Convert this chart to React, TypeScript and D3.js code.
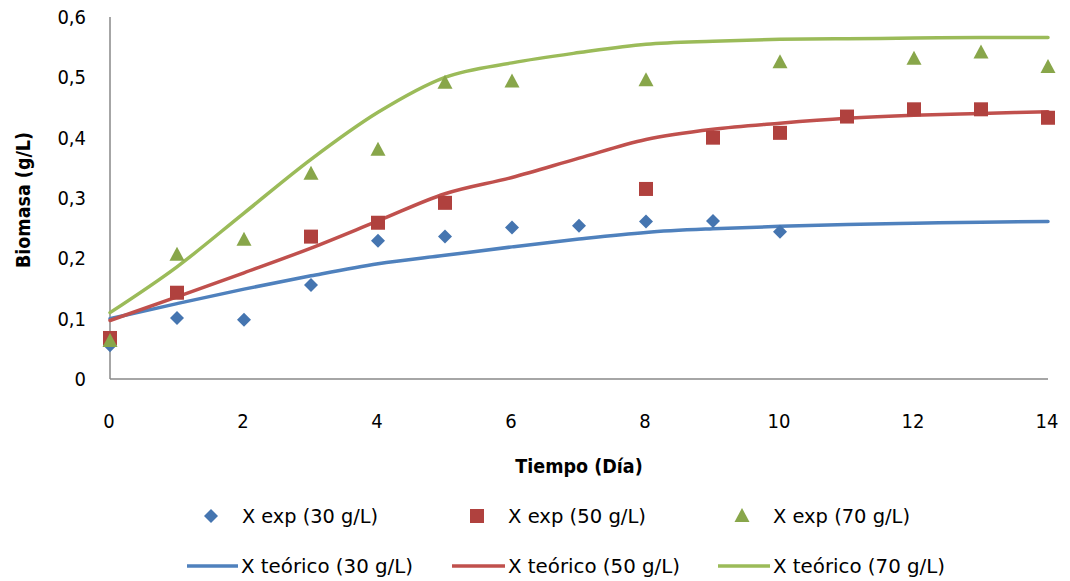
import React from "react";
import * as d3 from "d3";

// Experimental biomass readings (g/L) by day
const days30 = [0, 1, 2, 3, 4, 5, 6, 7, 8, 9, 10];
const exp30 = [0.056, 0.101, 0.098, 0.156, 0.229, 0.236, 0.251, 0.254, 0.261, 0.262, 0.244];
const days50 = [0, 1, 3, 4, 5, 8, 9, 10, 11, 12, 13, 14];
const exp50 = [0.068, 0.143, 0.236, 0.259, 0.292, 0.315, 0.4, 0.408, 0.435, 0.447, 0.447, 0.433];
const days70 = [0, 1, 2, 3, 4, 5, 6, 8, 10, 12, 13, 14];
const exp70 = [0.063, 0.206, 0.231, 0.34, 0.38, 0.491, 0.493, 0.495, 0.525, 0.531, 0.541, 0.517];

// Model (theoretical) curves, evaluated daily
const modelDays = [0, 1, 2, 3, 4, 5, 6, 7, 8, 9, 10, 11, 12, 13, 14];
const teo30 = [0.1, 0.125, 0.149, 0.171, 0.191, 0.205, 0.219, 0.232, 0.243, 0.249, 0.253, 0.256, 0.258, 0.26, 0.261];
const teo50 = [0.097, 0.136, 0.176, 0.217, 0.262, 0.307, 0.334, 0.366, 0.397, 0.414, 0.424, 0.432, 0.437, 0.44, 0.443];
const teo70 = [0.11, 0.186, 0.275, 0.364, 0.442, 0.5, 0.524, 0.541, 0.555, 0.56, 0.563, 0.564, 0.565, 0.566, 0.566];

const xTicks = [0, 2, 4, 6, 8, 10, 12, 14];
const yTicks = [0, 0.1, 0.2, 0.3, 0.4, 0.5, 0.6];

const expLabels = ["X exp (30 g/L)", "X exp (50 g/L)", "X exp (70 g/L)"];
const teoLabels = ["X teórico (30 g/L)", "X teórico (50 g/L)", "X teórico (70 g/L)"];

const lineColors = ["#4F81BD", "#C0504D", "#9BBB59"];
const markColors = ["#4575B0", "#B0413E", "#88A64A"];

const FONT = "'Liberation Sans Narrow', 'DejaVu Sans Condensed', 'Open Sans', sans-serif";

export default function App() {
  const W = 1070;
  const H = 581;
  const x = d3.scaleLinear().domain([0, 14]).range([110, 1048]);
  const y = d3.scaleLinear().domain([0, 0.6]).range([379, 17]);

  const line = d3
    .line<[number, number]>()
    .x((d) => x(d[0]))
    .y((d) => y(d[1]))
    .curve(d3.curveMonotoneX);

  const teo = [teo30, teo50, teo70];
  const expSets: [number[], number[]][] = [
    [days30, exp30],
    [days50, exp50],
    [days70, exp70],
  ];

  const marker = (k: number, cx: number, cy: number, key: string) => {
    const c = markColors[k];
    if (k === 0) {
      const r = 7;
      return (
        <path key={key} d={`M${cx},${cy - r}L${cx + r},${cy}L${cx},${cy + r}L${cx - r},${cy}Z`} fill={c} />
      );
    }
    if (k === 1) {
      return <rect key={key} x={cx - 7} y={cy - 7} width={14} height={14} fill={c} />;
    }
    return (
      <path key={key} d={`M${cx},${cy - 8}L${cx + 7.5},${cy + 6}L${cx - 7.5},${cy + 6}Z`} fill={c} />
    );
  };

  const legX1 = [211, 477, 742];
  const legLine = [[187, 238], [452, 505], [718, 770]];
  const expLen = [136, 138, 137];
  const teoLen = [172, 172, 172];

  return (
    <svg width={W} height={H} style={{ position: "absolute", left: 0, top: 0, background: "#fff" }}>
      <rect width={W} height={H} fill="#fff" />
      {/* axes */}
      <line x1={110} x2={110} y1={17} y2={379} stroke="#888" strokeWidth={1.5} />
      <line x1={110} x2={1048} y1={379} y2={379} stroke="#888" strokeWidth={1.5} />
      {yTicks.map((t) => (
        <text key={t} x={86} y={y(t)} dy="0.35em" textAnchor="end" fontFamily={FONT} fontSize={20} fill="#000">
          {String(t).replace(".", ",")}
        </text>
      ))}
      {xTicks.map((t) => (
        <text key={t} x={x(t) - 1} y={421} dy="0.35em" textAnchor="middle" fontFamily={FONT} fontSize={20} fill="#000">
          {t}
        </text>
      ))}
      <text
        transform="translate(23,200) rotate(-90)"
        textAnchor="middle"
        dy="0.35em"
        fontFamily={FONT}
        fontSize={19.5}
        fontWeight="bold"
      >
        Biomasa (g/L)
      </text>
      <text x={579} y={466} dy="0.35em" textAnchor="middle" fontFamily={FONT} fontSize={19.5} fontWeight="bold">
        Tiempo (Día)
      </text>

      {/* theoretical curves */}
      {teo.map((vals, k) => (
        <path
          key={k}
          d={line(modelDays.map((d, i) => [d, vals[i]] as [number, number])) || ""}
          fill="none"
          stroke={lineColors[k]}
          strokeWidth={3.5}
          strokeLinecap="round"
        />
      ))}

      {/* experimental points */}
      {expSets.map(([ds, vs], k) => ds.map((d, i) => marker(k, x(d), y(vs[i]), `m${k}-${i}`)))}

      {/* legend */}
      {expLabels.map((lab, k) => (
        <g key={lab}>
          {marker(k, legX1[k], 516, `lg${k}`)}
          <text
            x={legX1[k] + 31}
            y={516}
            dy="0.35em"
            fontFamily={FONT}
            fontSize={20}
            textLength={expLen[k]}
            lengthAdjust="spacingAndGlyphs"
          >
            {lab}
          </text>
        </g>
      ))}
      {teoLabels.map((lab, k) => (
        <g key={lab}>
          <line x1={legLine[k][0]} x2={legLine[k][1]} y1={566} y2={566} stroke={lineColors[k]} strokeWidth={3.5} />
          <text
            x={legLine[k][1] + 3}
            y={566}
            dy="0.35em"
            fontFamily={FONT}
            fontSize={20}
            textLength={teoLen[k]}
            lengthAdjust="spacingAndGlyphs"
          >
            {lab}
          </text>
        </g>
      ))}
    </svg>
  );
}
